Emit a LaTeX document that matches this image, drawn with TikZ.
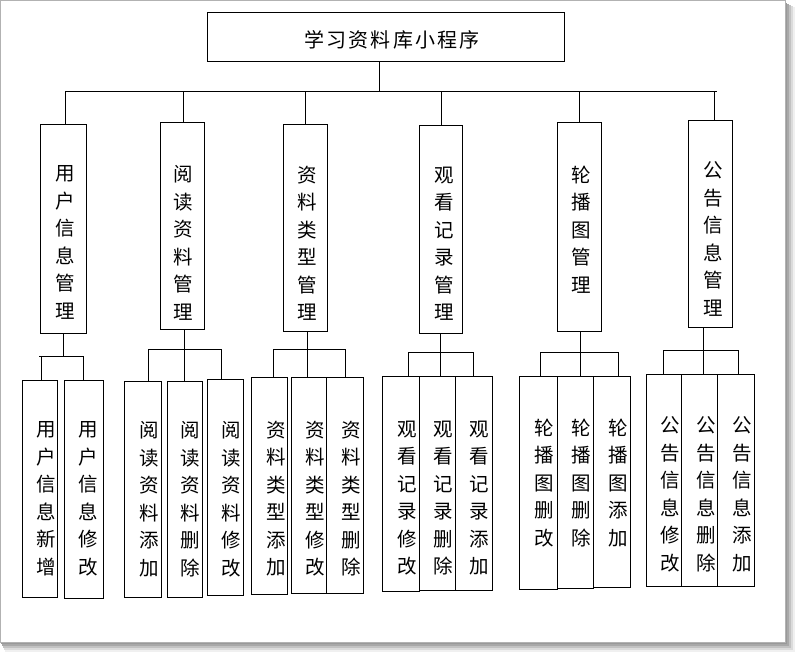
\documentclass[tikz,border=0pt]{standalone}
\usepackage{fontspec}
\newfontfamily\cjk{Noto Sans CJK SC}
\newfontfamily\cjktitle[LetterSpace=11]{Noto Sans CJK SC}
\newcommand\mybox[5]{\node[boxnode,minimum width={#4-#2},minimum height={#5-#3}] (#1) at ({(#2+#4)/2},{(#3+#5)/2}) {};}
\begin{document}
\begin{tikzpicture}[x=1pt,y=-1pt,
  boxnode/.style={draw=black,line width=0.9pt,fill=white,inner sep=0pt,rectangle},
  lbl/.style={inner sep=0pt,align=center,anchor=north,yshift=-3pt,font=\cjk\fontsize{19.5}{27.5}\selectfont},
  conn/.style={line width=0.9pt,draw=black}]
\useasboundingbox (0,0) rectangle (796,653);
% page frame with shadow
\fill[black!6] (5,7) rectangle (795,652);
\fill[black!14] (4,6) rectangle (793,650);
\fill[black!24] (3,5) rectangle (791,648);
\fill[black!34] (2,4) rectangle (789,646);
\fill[black!40] (1,3) rectangle (787,644);
\filldraw[fill=white,draw=black!30,line width=0.8pt] (0.5,0.5) rectangle (785,642);
% root
\mybox{root}{207}{12}{564}{61}
\node[inner sep=0pt,font=\cjktitle\fontsize{20}{24}\selectfont] (title) at (392,40) {学习资料库小程序};
% level 2 boxes
\mybox{m1}{40}{124}{86}{333}
\mybox{m2}{160}{122}{204}{329}
\mybox{m3}{283}{124}{327}{331}
\mybox{m4}{419}{125}{462}{333}
\mybox{m5}{557}{122}{601}{331}
\mybox{m6}{688}{120}{732}{327}
\node[lbl] (t1) at (65,162.5) {用\\户\\信\\息\\管\\理};
\node[lbl] (t2) at (183,162.5) {阅\\读\\资\\料\\管\\理};
\node[lbl] (t3) at (307,162.5) {资\\料\\类\\型\\管\\理};
\node[lbl] (t4) at (444,163.5) {观\\看\\记\\录\\管\\理};
\node[lbl] (t5) at (581,162.5) {轮\\播\\图\\管\\理};
\node[lbl] (t6) at (713,158.5) {公\\告\\信\\息\\管\\理};
% main bus
\coordinate (r0) at (379,91);
\coordinate (v1) at (65,91);
\coordinate (v2) at (183,91);
\coordinate (v3) at (305,91);
\coordinate (v4) at (441,91);
\coordinate (v5) at (579,91);
\coordinate (v6) at (714,91);
\coordinate (vE) at (717,91);
\draw[conn] (r0 |- root.south) -- (r0);
\draw[conn] (v1) -- (vE);
\foreach \i in {1,...,6} {\draw[conn] (v\i) -- (v\i |- m\i.north);}
% level 3 boxes
\mybox{l1a}{22}{380}{57}{597}
\mybox{l1b}{64}{380}{103}{598}
\mybox{l2a}{124}{381}{161}{597}
\mybox{l2b}{167}{381}{202}{597}
\mybox{l2c}{207}{379}{243}{595}
\mybox{l3a}{251}{377}{287}{594}
\mybox{l3b}{291}{377}{326}{593}
\mybox{l3c}{326}{377}{363}{593}
\mybox{l4a}{382}{376}{419}{591}
\mybox{l4b}{419}{376}{455}{590}
\mybox{l4c}{455}{376}{492}{590}
\mybox{l5a}{519}{376}{557}{589}
\mybox{l5b}{557}{376}{593}{588}
\mybox{l5c}{593}{376}{630}{587}
\mybox{l6a}{646}{374}{681}{586}
\mybox{l6b}{681}{374}{717}{586}
\mybox{l6c}{717}{374}{754}{586}
% level 3 texts
\node[lbl] (x1a) at (46,418.5) {用\\户\\信\\息\\新\\增};
\node[lbl] (x1b) at (88,418.5) {用\\户\\信\\息\\修\\改};
\node[lbl] (x2a) at (149,418.5) {阅\\读\\资\\料\\添\\加};
\node[lbl] (x2b) at (190,418.5) {阅\\读\\资\\料\\删\\除};
\node[lbl] (x2c) at (231,418.5) {阅\\读\\资\\料\\修\\改};
\node[lbl] (x3a) at (276,417.5) {资\\料\\类\\型\\添\\加};
\node[lbl] (x3b) at (315,417.5) {资\\料\\类\\型\\修\\改};
\node[lbl] (x3c) at (351,417.5) {资\\料\\类\\型\\删\\除};
\node[lbl] (x4a) at (407,417.5) {观\\看\\记\\录\\修\\改};
\node[lbl] (x4b) at (443,417.5) {观\\看\\记\\录\\删\\除};
\node[lbl] (x4c) at (479,417.5) {观\\看\\记\\录\\添\\加};
\node[lbl] (x5a) at (544,415.5) {轮\\播\\图\\删\\改};
\node[lbl] (x5b) at (581,415.5) {轮\\播\\图\\删\\除};
\node[lbl] (x5c) at (618,415.5) {轮\\播\\图\\添\\加};
\node[lbl] (x6a) at (670,413.5) {公\\告\\信\\息\\修\\改};
\node[lbl] (x6b) at (706,413.5) {公\\告\\信\\息\\删\\除};
\node[lbl] (x6c) at (742,413.5) {公\\告\\信\\息\\添\\加};
% sub buses
\coordinate (s1M) at (63,356); \coordinate (s1L) at (39,356); \coordinate (s1R) at (83,356);
\coordinate (s1a) at (41,356);
\draw[conn] (s1M |- m1.south) -- (s1M);
\draw[conn] (s1L) -- (s1R);
\draw[conn] (s1a) -- (s1a |- l1a.north);
\draw[conn] (s1R) -- (s1R |- l1b.north);
\coordinate (s2M) at (184,349); \coordinate (s2L) at (148,349); \coordinate (s2R) at (221,349);
\draw[conn] (s2M |- m2.south) -- (s2M |- l2b.north);
\draw[conn] (s2L) -- (s2R);
\draw[conn] (s2L) -- (s2L |- l2a.north);
\draw[conn] (s2R) -- (s2R |- l2c.north);
\coordinate (s3M) at (307,349); \coordinate (s3L) at (273,349); \coordinate (s3R) at (345,349);
\draw[conn] (s3M |- m3.south) -- (s3M |- l3b.north);
\draw[conn] (s3L) -- (s3R);
\draw[conn] (s3L) -- (s3L |- l3a.north);
\draw[conn] (s3R) -- (s3R |- l3c.north);
\coordinate (s4M) at (440,352); \coordinate (s4L) at (408,352); \coordinate (s4R) at (473,352);
\draw[conn] (s4M |- m4.south) -- (s4M |- l4b.north);
\draw[conn] (s4L) -- (s4R);
\draw[conn] (s4L) -- (s4L |- l4a.north);
\draw[conn] (s4R) -- (s4R |- l4c.north);
\coordinate (s5M) at (580,352); \coordinate (s5L) at (540,352); \coordinate (s5R) at (618,352);
\draw[conn] (s5M |- m5.south) -- (s5M |- l5b.north);
\draw[conn] (s5L) -- (s5R);
\draw[conn] (s5L) -- (s5L |- l5a.north);
\draw[conn] (s5R) -- (s5R |- l5c.north);
\coordinate (s6M) at (703,350); \coordinate (s6L) at (663,350); \coordinate (s6R) at (738,350);
\draw[conn] (s6M |- m6.south) -- (s6M |- l6b.north);
\draw[conn] (s6L) -- (s6R);
\draw[conn] (s6L) -- (s6L |- l6a.north);
\draw[conn] (s6R) -- (s6R |- l6c.north);
\end{tikzpicture}
\end{document}
